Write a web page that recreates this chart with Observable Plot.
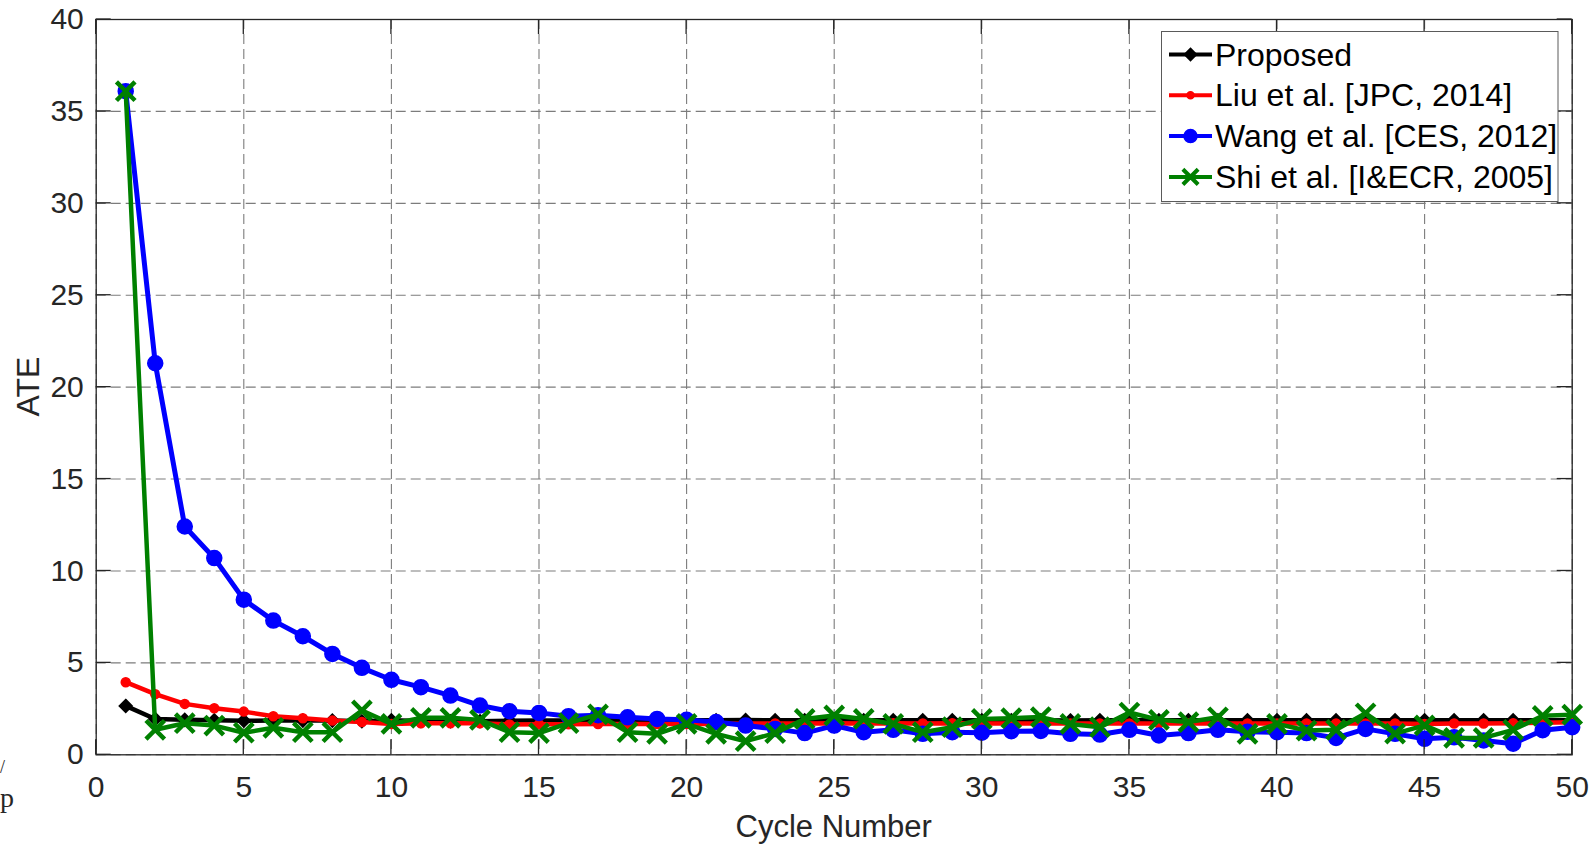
<!DOCTYPE html>
<html>
<head>
<meta charset="utf-8">
<script src="https://cdn.jsdelivr.net/npm/d3@7"></script>
<script src="https://cdn.jsdelivr.net/npm/@observablehq/plot@0.6"></script>
<style>
  html, body { margin: 0; padding: 0; background: #fff; }
  #chart { position: relative; width: 1592px; height: 845px; }
</style>
</head>
<body>
<div id="chart"></div>
<script>
// Cycle index 1..50
const cycles = d3.range(1, 51);

// Average tracking error per cycle for each method
const proposed = [2.66, 1.95, 1.90, 1.88, 1.85, 1.87, 1.86, 1.86, 1.82, 1.88,
                  1.84, 1.82, 1.83, 1.85, 1.86, 1.87, 1.88, 1.87, 1.88, 1.88,
                  1.88, 1.89, 1.88, 1.88, 1.89, 1.88, 1.88, 1.88, 1.88, 1.88,
                  1.88, 1.88, 1.87, 1.88, 1.88, 1.88, 1.88, 1.88, 1.88, 1.88,
                  1.88, 1.88, 1.88, 1.88, 1.88, 1.88, 1.88, 1.88, 1.88, 1.88];
const liu      = [3.95, 3.30, 2.77, 2.53, 2.35, 2.10, 1.99, 1.86, 1.78, 1.68,
                  1.72, 1.72, 1.72, 1.65, 1.66, 1.66, 1.68, 1.68, 1.68, 1.68,
                  1.68, 1.70, 1.70, 1.70, 1.72, 1.70, 1.72, 1.70, 1.72, 1.70,
                  1.70, 1.70, 1.70, 1.70, 1.70, 1.70, 1.70, 1.70, 1.70, 1.70,
                  1.70, 1.70, 1.70, 1.70, 1.68, 1.70, 1.70, 1.72, 1.74, 1.77];
const wang     = [36.1, 21.3, 12.42, 10.7, 8.44, 7.30, 6.45, 5.49, 4.73, 4.08,
                  3.68, 3.22, 2.68, 2.37, 2.28, 2.10, 2.15, 2.04, 1.95, 1.90,
                  1.78, 1.59, 1.41, 1.18, 1.59, 1.23, 1.36, 1.14, 1.23, 1.20,
                  1.28, 1.30, 1.14, 1.10, 1.36, 1.05, 1.18, 1.36, 1.25, 1.23,
                  1.18, 0.92, 1.41, 1.14, 0.87, 0.95, 0.78, 0.60, 1.34, 1.50];
const shi      = [36.1, 1.36, 1.72, 1.59, 1.20, 1.47, 1.23, 1.23, 2.41, 1.68,
                  2.01, 2.01, 1.90, 1.23, 1.18, 1.72, 2.20, 1.23, 1.14, 1.68,
                  1.14, 0.74, 1.18, 1.95, 2.14, 1.95, 1.68, 1.23, 1.50, 1.95,
                  1.99, 2.05, 1.68, 1.50, 2.30, 1.90, 1.78, 2.04, 1.14, 1.68,
                  1.32, 1.36, 2.26, 1.15, 1.60, 0.92, 0.92, 1.36, 2.12, 2.18];

const seriesNames   = ["Proposed", "Liu et al. [JPC, 2014]", "Wang et al. [CES, 2012]", "Shi et al. [I&ECR, 2005]"];
const seriesValues  = [proposed, liu, wang, shi];
const seriesColors  = ["#000000", "#ff0000", "#0000ff", "#008000"];
const seriesSymbols = ["diamond2", "circle", "circle", "times"];

// Axis ticks and titles
const xTicks = d3.range(0, 51, 5);
const yTicks = d3.range(0, 41, 5);
const xLabel = "Cycle Number";
const yLabel = "ATE";

// Per-series line and marker styling
const lineWidth    = [4.5, 4.5, 5, 4.5];
const markerR      = [5.5, 4.5, 7.5, 8.5];
const markerFill   = (i) => seriesSymbols[i] === "times" ? "none" : seriesColors[i];
const markerStroke = [2, 1.5, 1.5, 4.5];

const rows = seriesNames.map((name, s) =>
  cycles.map((c, i) => ({cycle: c, ate: seriesValues[s][i], series: name}))
);

const font = "'Liberation Sans', Arial, Helvetica, sans-serif";
const ink = "#262626";
const gridStyle = {stroke: "#7c7c7c", strokeOpacity: 1, strokeWidth: 1.1, strokeDasharray: "10,5"};

const seriesMarks = rows.flatMap((data, s) => [
  Plot.line(data, {
    x: "cycle", y: "ate",
    stroke: seriesColors[s], strokeWidth: lineWidth[s],
    strokeLinejoin: "round", strokeLinecap: "round"
  }),
  Plot.dot(data, {
    x: "cycle", y: "ate",
    symbol: () => seriesSymbols[s],
    r: markerR[s],
    fill: markerFill(s),
    stroke: seriesColors[s],
    strokeWidth: markerStroke[s]
  })
]);

const chart = Plot.plot({
  width: 1592,
  height: 845,
  marginLeft: 95.7,
  marginRight: 20.3,
  marginTop: 19,
  marginBottom: 90.7,
  style: {fontFamily: font, fontSize: "30px", color: ink, background: "#fff", overflow: "visible"},
  x: {domain: [0, 50]},
  y: {domain: [0, 40]},
  symbol: {type: "identity"},
  marks: [
    Plot.gridX(xTicks, gridStyle),
    Plot.gridY(yTicks, gridStyle),
    Plot.axisX(xTicks, {anchor: "bottom", tickSize: 0, tickPadding: 21, label: null, fontSize: 30}),
    Plot.axisY(yTicks, {anchor: "left", tickSize: 0, tickPadding: 12.4, label: null, fontSize: 30}),
    Plot.frame({stroke: ink, strokeWidth: 1.3}),
    ...seriesMarks
  ]
});

document.getElementById("chart").appendChild(chart);

const svg = d3.select(chart);
const xs = chart.scale("x");
const ys = chart.scale("y");
const [xLeft, xRight] = xs.range;
const [yBottom, yTop] = ys.range;
const tickLen = 15;

// Inward tick marks on all four sides of the box, placed with the plot's scales
const tickGroup = svg.append("g").attr("stroke", ink).attr("stroke-width", 1.3);
xTicks.forEach((v) => {
  const px = xs.apply(v);
  tickGroup.append("line").attr("x1", px).attr("x2", px).attr("y1", yBottom).attr("y2", yBottom - tickLen);
  tickGroup.append("line").attr("x1", px).attr("x2", px).attr("y1", yTop).attr("y2", yTop + tickLen);
});
yTicks.forEach((v) => {
  const py = ys.apply(v);
  tickGroup.append("line").attr("x1", xLeft).attr("x2", xLeft + tickLen).attr("y1", py).attr("y2", py);
  tickGroup.append("line").attr("x1", xRight).attr("x2", xRight - tickLen).attr("y1", py).attr("y2", py);
});

// Axis titles
svg.append("text")
  .attr("x", (xLeft + xRight) / 2).attr("y", 837)
  .attr("text-anchor", "middle").attr("font-family", font)
  .attr("font-size", 31).attr("fill", ink)
  .text(xLabel);
svg.append("text")
  .attr("transform", `translate(39,${(yTop + yBottom) / 2}) rotate(-90)`)
  .attr("text-anchor", "middle").attr("font-family", font)
  .attr("font-size", 32).attr("fill", ink)
  .text(yLabel);

// Legend box in the upper-right corner of the axes
const lg = svg.append("g").attr("font-family", font);
lg.append("rect")
  .attr("x", 1161.5).attr("y", 31.5)
  .attr("width", 396.5).attr("height", 170)
  .attr("fill", "#fff").attr("stroke", "#5a5a5a").attr("stroke-width", 1);

const symbolTypes = {diamond2: d3.symbolDiamond2, circle: d3.symbolCircle, times: d3.symbolTimes};
const legendR = [5.5, 3.5, 6.5, 7];
seriesNames.forEach((name, i) => {
  const base = 65.5 + i * 40.8;
  const ly = base - 11;
  lg.append("line")
    .attr("x1", 1169).attr("x2", 1212).attr("y1", ly).attr("y2", ly)
    .attr("stroke", seriesColors[i]).attr("stroke-width", 4);
  const r = legendR[i];
  lg.append("path")
    .attr("transform", `translate(1190.5,${ly})`)
    .attr("d", d3.symbol(symbolTypes[seriesSymbols[i]], Math.PI * r * r)())
    .attr("fill", markerFill(i))
    .attr("stroke", seriesColors[i])
    .attr("stroke-width", i === 3 ? 4 : 1.5);
  lg.append("text")
    .attr("x", 1215).attr("y", base)
    .attr("text-anchor", "start")
    .attr("font-size", 32).attr("fill", "#000")
    .text(name);
});

// Stray glyph fragments at the left edge of the figure
const frag = svg.append("g")
  .attr("font-family", "'Liberation Serif', 'DejaVu Serif', serif")
  .attr("fill", ink).attr("text-anchor", "start");
frag.append("text").attr("x", 0).attr("y", 773).attr("font-size", 18).text("/");
frag.append("text").attr("x", 0).attr("y", 807).attr("font-size", 28).text("p");
</script>
</body>
</html>
